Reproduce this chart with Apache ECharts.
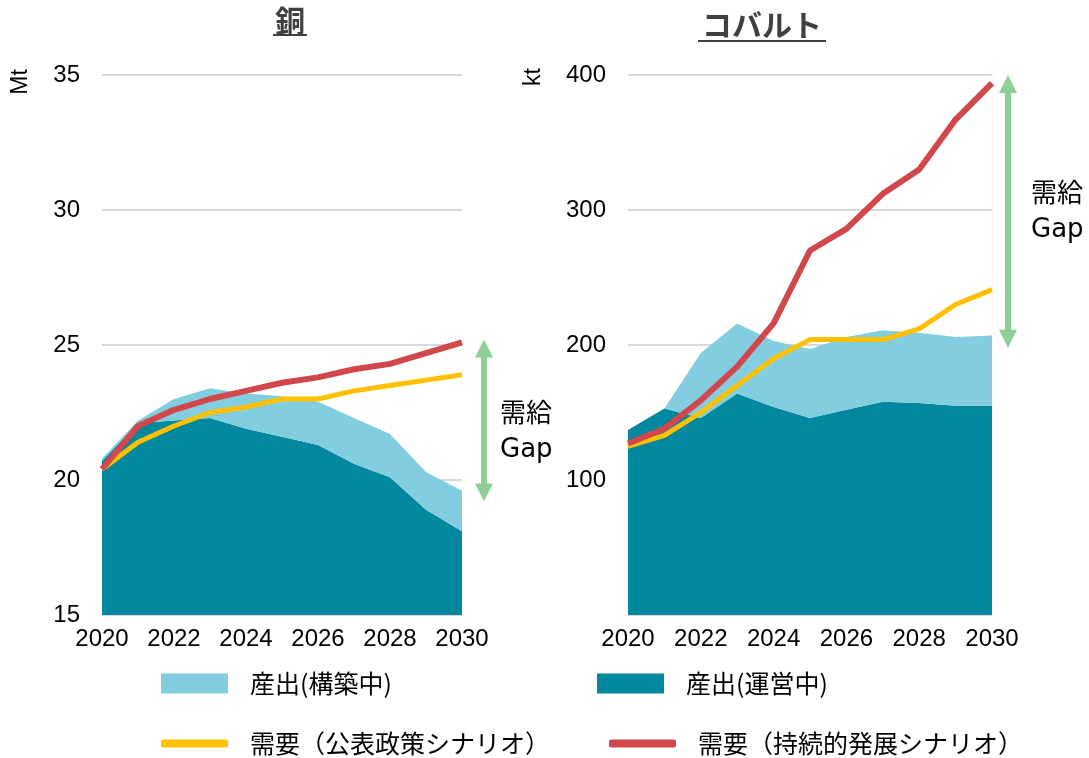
<!DOCTYPE html>
<html>
<head>
<meta charset="utf-8">
<script src="https://cdn.jsdelivr.net/npm/echarts@6/dist/echarts.min.js"></script>
<style>
  html, body { margin: 0; padding: 0; background: #fff; }
  #main { width: 1089px; height: 758px; }
</style>
</head>
<body>
<div id="main"></div>
<script>
// 年
var years = ['2020', '2021', '2022', '2023', '2024', '2025', '2026', '2027', '2028', '2029', '2030'];

// 銅 (Mt)
var cuOperating = [20.7, 22.1, 22.2, 22.3, 21.9, 21.6, 21.3, 20.6, 20.1, 18.9, 18.1];
var cuConstruction = [0.1, 0.1, 0.8, 1.1, 1.3, 1.5, 1.6, 1.7, 1.6, 1.4, 1.5];
var cuStated = [20.4, 21.4, 22.0, 22.5, 22.7, 23.0, 23.0, 23.3, 23.5, 23.7, 23.9];
var cuSustainable = [20.4, 22.0, 22.6, 23.0, 23.3, 23.6, 23.8, 24.1, 24.3, 24.7, 25.1];

// コバルト (kt)
var coOperating = [137, 153, 146, 164, 154, 146, 152, 158, 157, 155, 155];
var coConstruction = [0, 0, 48, 52, 49, 51, 54, 53, 52, 51, 52];
var coStated = [125, 133, 150, 170, 190, 204, 204, 204, 212, 230, 241];
var coSustainable = [127, 138, 159, 184, 216, 270, 286, 312, 330, 367, 394];

// 需給Gap の矢印 (上端・下端)
var cuGap = [25.2, 19.2];
var coGap = [400, 198];

var C_LIGHT = '#83CDE0';
var C_DARK = '#01889E';
var C_YELLOW = '#FFC000';
var C_RED = '#D2474B';
var C_GREEN = '#8ECF95';

var N_CONS = '産出(構築中)';
var N_OPER = '産出(運営中)';
var N_STATED = '需要（公表政策シナリオ）';
var N_SUST = '需要（持続的発展シナリオ）';

var numFont = 'Liberation Sans, Arial, sans-serif';
var jpFont = 'Noto Sans CJK JP, sans-serif';

var myChart = echarts.init(document.getElementById('main'));

function xAxisOf(i) {
  return {
    type: 'category', gridIndex: i, data: years, boundaryGap: false,
    axisLine: { show: false }, axisTick: { show: false },
    axisLabel: { interval: 1, color: '#000', fontSize: 24, fontFamily: numFont, margin: 12 }
  };
}

function yAxisOf(i, min, max, step, hideZero) {
  return {
    type: 'value', gridIndex: i, min: min, max: max, interval: step,
    axisLine: { show: false }, axisTick: { show: false },
    axisLabel: {
      color: '#000', fontSize: 24, fontFamily: numFont, margin: 22,
      formatter: function (v) { return (hideZero && v === 0) ? '' : v; }
    },
    splitLine: { lineStyle: { color: '#D9D9D9', width: 2 } }
  };
}

function areaSeries(name, idx, data, color, stack) {
  return {
    name: name, type: 'line', xAxisIndex: idx, yAxisIndex: idx, stack: stack,
    data: data, showSymbol: false, symbol: 'none',
    lineStyle: { width: 0 }, itemStyle: { color: color },
    areaStyle: { color: color, opacity: 1 }
  };
}

function lineSeries(name, idx, data, color, w) {
  return {
    name: name, type: 'line', xAxisIndex: idx, yAxisIndex: idx,
    data: data, showSymbol: false, symbol: 'none', z: 3,
    lineStyle: { width: w, color: color }, itemStyle: { color: color }
  };
}

function legendOf(name, left, top, icon, h) {
  return {
    data: [name], left: left, top: top, padding: 0,
    icon: icon, itemWidth: 67, itemHeight: h,
    textStyle: { fontSize: 25, fontFamily: jpFont, color: '#000', padding: [0, 0, 0, 17] }
  };
}

myChart.setOption({
  animation: false,
  grid: [
    { left: 102, right: 627, top: 75, bottom: 143 },
    { left: 628, right: 97, top: 75, bottom: 143 }
  ],
  xAxis: [xAxisOf(0), xAxisOf(1)],
  yAxis: [yAxisOf(0, 15, 35, 5, false), yAxisOf(1, 0, 400, 100, true)],
  legend: [
    legendOf(N_CONS, 161, 671, 'rect', 20),
    legendOf(N_OPER, 597, 671, 'rect', 20),
    legendOf(N_STATED, 161, 731, 'roundRect', 8),
    legendOf(N_SUST, 609, 731, 'roundRect', 8)
  ],
  series: [
    areaSeries(N_OPER, 0, cuOperating, C_DARK, 'cu'),
    areaSeries(N_CONS, 0, cuConstruction, C_LIGHT, 'cu'),
    lineSeries(N_STATED, 0, cuStated, C_YELLOW, 5),
    lineSeries(N_SUST, 0, cuSustainable, C_RED, 6),
    areaSeries(N_OPER, 1, coOperating, C_DARK, 'co'),
    areaSeries(N_CONS, 1, coConstruction, C_LIGHT, 'co'),
    lineSeries(N_STATED, 1, coStated, C_YELLOW, 5),
    lineSeries(N_SUST, 1, coSustainable, C_RED, 6)
  ]
});

// 矢印（需給Gap）
function gapArrow(gi, gap, dx) {
  var top = myChart.convertToPixel({ gridIndex: gi }, [years.length - 1, gap[0]]);
  var bot = myChart.convertToPixel({ gridIndex: gi }, [years.length - 1, gap[1]]);
  var x = top[0] + dx, y1 = top[1], y2 = bot[1];
  return [
    { type: 'line', shape: { x1: x, y1: y1 + 14, x2: x, y2: y2 - 14 }, style: { stroke: C_GREEN, lineWidth: 6 } },
    { type: 'polygon', shape: { points: [[x, y1], [x - 9, y1 + 18], [x + 9, y1 + 18]] }, style: { fill: C_GREEN } },
    { type: 'polygon', shape: { points: [[x, y2], [x - 9, y2 - 18], [x + 9, y2 - 18]] }, style: { fill: C_GREEN } }
  ];
}

var gapFont = 'DejaVu Sans, Noto Sans CJK JP, sans-serif';
var graphics = [
  { type: 'text', x: 290, y: 21, style: { text: '銅', fontSize: 30, fontWeight: 'bold', fontFamily: jpFont, fill: '#404040', align: 'center', verticalAlign: 'middle' } },
  { type: 'rect', shape: { x: 273, y: 34, width: 34, height: 2 }, style: { fill: '#404040' } },
  { type: 'text', x: 762, y: 25, style: { text: 'コバルト', fontSize: 30, fontWeight: 'bold', fontFamily: jpFont, fill: '#404040', align: 'center', verticalAlign: 'middle' } },
  { type: 'rect', shape: { x: 698, y: 40, width: 128, height: 2 }, style: { fill: '#404040' } },
  { type: 'text', x: 21, y: 82, rotation: Math.PI / 2, style: { text: 'Mt', fontSize: 23, fontFamily: numFont, fill: '#000', align: 'center', verticalAlign: 'middle' } },
  { type: 'text', x: 534, y: 77, rotation: Math.PI / 2, style: { text: 'kt', fontSize: 23, fontFamily: numFont, fill: '#000', align: 'center', verticalAlign: 'middle' } },
  { type: 'text', x: 500, y: 398, style: { text: '需給\nGap', fontSize: 26, lineHeight: 35, fontFamily: gapFont, fill: '#000' } },
  { type: 'text', x: 1031, y: 178, style: { text: '需給\nGap', fontSize: 26, lineHeight: 35, fontFamily: gapFont, fill: '#000' } }
];
graphics = graphics.concat(gapArrow(0, cuGap, 22), gapArrow(1, coGap, 16));
myChart.setOption({ graphic: graphics });
</script>
</body>
</html>
